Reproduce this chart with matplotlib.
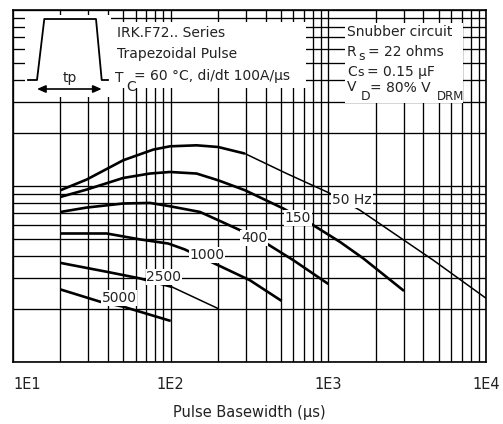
import matplotlib
matplotlib.use("Agg")
import matplotlib.pyplot as plt
from matplotlib.patches import Rectangle, FancyArrowPatch
from matplotlib.lines import Line2D

plt.rcParams['font.family'] = ['DejaVu Sans']

# ---------------- data ----------------
x_ticks = [10, 100, 1000, 10000]
x_tick_labels = ["1E1", "1E2", "1E3", "1E4"]

freq_labels = ["50 Hz", "150", "400", "1000", "2500", "5000"]

x_50 = [20, 29.3, 50, 77.6, 99, 146, 200, 296, 544, 1000, 1588, 4632, 10000]
y_50 = [943, 1084, 1395, 1604, 1674, 1696, 1659, 1522, 1173, 915, 726, 378, 230]

x_150 = [20, 29.3, 50, 73.9, 99, 146, 200, 296, 518, 803, 1186, 1667, 3020]
y_150 = [864, 951, 1107, 1173, 1197, 1173, 1074, 943, 743, 597, 480, 387, 253]

x_400 = [20, 29.3, 50, 73.9, 99, 153.5, 200, 275, 406, 600, 1000]
y_400 = [710, 752, 793, 799, 765, 710, 638, 560, 470, 378, 277]

x_1000 = [20, 39.3, 63.9, 96.6, 123, 318, 506]
y_1000 = [536, 536, 496, 470, 435, 291, 222]

x_2500 = [20, 39.3, 63.9, 101.5, 200]
y_2500 = [365, 325, 298, 267, 201]

x_5000 = [20, 35.6, 50, 100]
y_5000 = [258, 220, 206, 171]

series_x = [x_50, x_150, x_400, x_1000, x_2500, x_5000]
series_y = [y_50, y_150, y_400, y_1000, y_2500, y_5000]

# ---------------- layout / style ----------------
W, H = 503, 424
# label positions (data coords) for curve labels
label_pos = [(1413, 828), (642, 654), (338, 504), (170, 404), (90.7, 303), (47, 230)]
# index from which the line becomes thin (None = all thick)
thin_from = [7, None, None, None, 3, None]

fig = plt.figure(figsize=(W / 100, H / 100), dpi=100)
ax_l, ax_r, ax_t, ax_b = 13, 486, 9.5, 362
ax = fig.add_axes([ax_l / W, 1 - ax_b / H, (ax_r - ax_l) / W, (ax_b - ax_t) / H])
ax.set_xscale('log')
ax.set_yscale('log')
ax.set_xlim(10, 10000)
ax.set_ylim(100, 10000)
ax.grid(True, which='both', color='black', lw=0.95)
ax.set_axisbelow(True)
for s in ax.spines.values():
    s.set_linewidth(1.2)
ax.tick_params(axis='y', which='both', left=False, labelleft=False)
ax.tick_params(axis='x', which='both', length=0, pad=11, labelsize=10.5, labelcolor='#222222')
ax.set_xticks(x_ticks)
ax.set_xticklabels(x_tick_labels)
ax.get_xticklabels()[0].set_horizontalalignment('left')
ax.set_xlabel("Pulse Basewidth (µs)", fontsize=10.5, color='#222222', labelpad=9)

thick, thin = 1.9, 1.1
for xs, ys, tf in zip(series_x, series_y, thin_from):
    if tf is None:
        ax.plot(xs, ys, color='black', lw=thick, solid_capstyle='butt', zorder=3)
    else:
        ax.plot(xs[:tf + 1], ys[:tf + 1], color='black', lw=thick, solid_capstyle='butt', zorder=3)
        ax.plot(xs[tf:], ys[tf:], color='black', lw=thin, solid_capstyle='butt', zorder=3)

for lab, (lx, ly) in zip(freq_labels, label_pos):
    ax.text(lx, ly, lab, ha='center', va='center', fontsize=10, color='#222222', zorder=5,
            bbox=dict(fc='white', ec='none', pad=0.6))


def fx(px):
    return px / W


def fy(py):
    return 1 - py / H


def box(x0, y0, x1, y1):
    fig.add_artist(Rectangle((fx(x0), fy(y1)), fx(x1) - fx(x0), fy(y0) - fy(y1),
                             transform=fig.transFigure, fc='white', ec='none', zorder=10))


def ftext(px, py, s, size=10, **kw):
    fig.text(fx(px), fy(py), s, fontsize=size, color='#222222', ha='left', va='center',
             zorder=12, **kw)


# inset pulse box
box(25, 15, 111, 97)
tx = [28, 37, 44.3, 96, 101.7, 108]
ty = [80, 80, 19, 19, 80, 80]
fig.add_artist(Line2D([fx(v) for v in tx], [fy(v) for v in ty], transform=fig.transFigure,
                      color='black', lw=1.3, zorder=11))
fig.add_artist(FancyArrowPatch((fx(37), fy(89)), (fx(101.7), fy(89)), transform=fig.transFigure,
                               arrowstyle='<|-|>,head_length=5,head_width=2.2', color='black',
                               lw=1.2, shrinkA=0, shrinkB=0, zorder=11))
fig.text(fx(70), fy(78), "tp", fontsize=10, color='#222222', ha='center', va='center', zorder=12)

# series box
box(111, 22, 306, 88)
ftext(117, 33, "IRK.F72.. Series")
ftext(117, 54, "Trapezoidal Pulse")
ftext(115, 78, "T")
ftext(126, 87, "C")
ftext(134, 76, "= 60 °C, di/dt 100A/µs")

# snubber box
box(345, 23, 463, 103)
ftext(347, 32, "Snubber circuit")
ftext(347, 52, "R")
ftext(358, 56, "s", size=9)
ftext(368, 52, "= 22 ohms")
ftext(347, 72, "C")
ftext(357, 72, "s", size=9)
ftext(367, 72, "= 0.15 µF")
ftext(347, 87, "V")
ftext(361, 97, "D", size=9)
ftext(370, 88, "= 80% V")
ftext(437, 97, "DRM", size=8.5)

fig.savefig("out.png", dpi=100)
